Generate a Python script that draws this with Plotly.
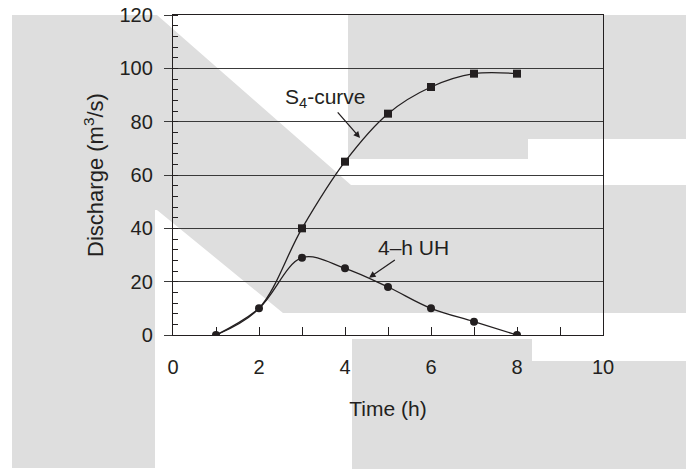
import plotly.graph_objects as go

# ---- data ----
time_s = [1, 2, 3, 4, 5, 6, 7, 8]
s_curve = [0, 10, 40, 65, 83, 93, 98, 98]
time_sq = [3, 4, 5, 6, 7, 8]
s_curve_sq = [40, 65, 83, 93, 98, 98]
time_uh = [1, 2, 3, 4, 5, 6, 7, 8]
uh = [0, 10, 29, 25, 18, 10, 5, 0]
x_ticks = [0, 2, 4, 6, 8, 10]
y_ticks = [0, 20, 40, 60, 80, 100, 120]

W, H = 686, 469
ML, MR, MT, MB = 173, 83, 15, 134
PW, PH = W - ML - MR, H - MT - MB

def px2paper(pts):
    out = []
    for i, (px, py) in enumerate(pts):
        xp = (px - ML) / PW
        yp = (H - MB - py) / PH
        out.append(("M" if i == 0 else "L") + f"{xp:.5f},{yp:.5f}")
    return " ".join(out) + " Z"

gray = "#dedede"
bg_polys = [
    [(12, 15), (157, 15), (351, 185), (686, 185), (686, 313), (283, 313),
     (157, 210), (155, 210), (155, 468), (12, 468)],
    [(348, 15), (686, 15), (686, 139), (528, 139), (528, 159), (348, 159)],
    [(352, 339), (532, 339), (532, 361), (686, 361), (686, 469), (352, 469)],
]
shapes = [dict(type="path", path=px2paper(p), xref="paper", yref="paper",
               fillcolor=gray, line=dict(width=0), layer="below") for p in bg_polys]

ink = "#231f20"
font = "Liberation Sans, Arial, Helvetica, sans-serif"

fig = go.Figure()
fig.add_trace(go.Scatter(x=time_s, y=s_curve, mode="lines",
                         line=dict(color=ink, width=1.3, shape="spline", smoothing=1.0),
                         hoverinfo="skip", showlegend=False))
fig.add_trace(go.Scatter(x=time_sq, y=s_curve_sq, mode="markers",
                         marker=dict(symbol="square", size=8, color=ink),
                         showlegend=False))
fig.add_trace(go.Scatter(x=time_uh, y=uh, mode="lines+markers",
                         line=dict(color=ink, width=1.3, shape="spline", smoothing=1.0),
                         marker=dict(symbol="circle", size=8, color=ink),
                         showlegend=False))

fig.add_annotation(x=4.35, y=73.9, ax=3.535, ay=88.9, axref="x", ayref="y",
                   text="S<sub>4</sub>-curve", showarrow=True, arrowhead=2,
                   arrowsize=1, arrowwidth=1.3, arrowcolor=ink,
                   font=dict(family=font, size=21, color=ink))
fig.add_annotation(x=4.56, y=21.5, ax=5.60, ay=33.0, axref="x", ayref="y",
                   text="4\u2013h UH", showarrow=True, arrowhead=2,
                   arrowsize=1, arrowwidth=1.3, arrowcolor=ink,
                   font=dict(family=font, size=21, color=ink))

fig.update_layout(
    width=W, height=H, autosize=False,
    margin=dict(l=ML, r=MR, t=MT, b=MB, pad=0, autoexpand=False),
    paper_bgcolor="white", plot_bgcolor="rgba(0,0,0,0)",
    font=dict(family=font, size=20, color=ink),
    shapes=shapes,
    xaxis=dict(range=[0, 10], tickvals=x_ticks, ticks="inside", ticklen=8,
               tickcolor=ink, tickwidth=1.2, showgrid=False, zeroline=False,
               showline=True, linecolor=ink, linewidth=1.3, mirror=True,
               ticklabelstandoff=14, automargin=False,
               minor=dict(dtick=1, ticks="inside", ticklen=8, tickcolor=ink, tickwidth=1.2, showgrid=False),
               title=dict(text="Time (h)", font=dict(size=21), standoff=24)),
    yaxis=dict(range=[0, 120], tickvals=y_ticks, ticks="outside", ticklen=8,
               tickcolor="#3a3a3a", tickwidth=1.3, showgrid=True, gridcolor="#3a3a3a",
               gridwidth=1.3, zeroline=False, automargin=False,
               showline=True, linecolor=ink, linewidth=1.3, mirror=True,
               ticklabelstandoff=7,
               minor=dict(dtick=4, ticks="inside", ticklen=5, tickcolor=ink, tickwidth=1.2, showgrid=False),
               title=dict(text="Discharge (m<sup>3</sup>/s)", font=dict(size=22), standoff=9)),
)

fig.write_html("out.html", config={"displayModeBar": False},
               post_script="document.body.style.margin='0';document.body.style.padding='0';")
